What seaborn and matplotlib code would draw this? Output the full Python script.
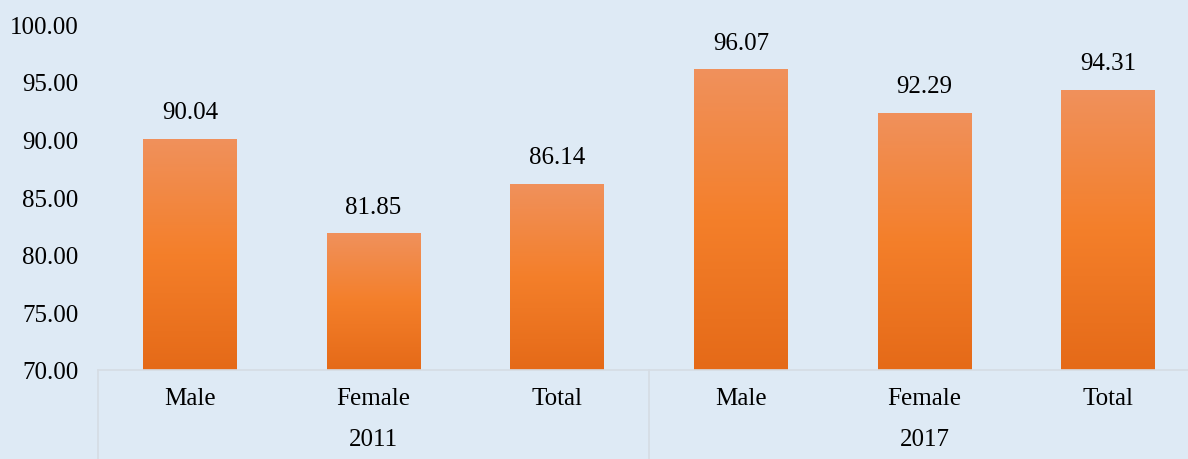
import numpy as np
import pandas as pd
import seaborn as sns
import matplotlib.pyplot as plt
from matplotlib.colors import LinearSegmentedColormap

years = ["2011", "2011", "2011", "2017", "2017", "2017"]
groups = ["Male", "Female", "Total", "Male", "Female", "Total"]
values = [90.04, 81.85, 86.14, 96.07, 92.29, 94.31]
yticks = [70, 75, 80, 85, 90, 95, 100]

df = pd.DataFrame({"year": years, "group": groups, "value": values})
df["slot"] = [f"{y}-{g}" for y, g in zip(years, groups)]

bg = "#DEEAF5"
line_col = "#D5DCE4"
plt.rcParams["font.family"] = ["Liberation Serif", "DejaVu Serif"]
fs = 18

fig = plt.figure(figsize=(11.88, 4.6), dpi=100, facecolor=bg)
ax = fig.add_axes([98 / 1188, 89 / 460, 1102 / 1188, 346 / 460])
ax.set_facecolor(bg)

sns.barplot(data=df, x="slot", y="value", color="#F47F2A", width=0.51, ax=ax)
ax.set_ylim(70, 100)
ax.set_xlim(-0.5, 5.5)

# vertical gradient per bar
cmap = LinearSegmentedColormap.from_list("og", ["#E56A18", "#F47F2A", "#F0915C"])
grad = np.linspace(0, 1, 256).reshape(-1, 1)
for p, v in zip(ax.patches, values):
    x0, w = p.get_x(), p.get_width()
    p.set_facecolor("none")
    p.set_edgecolor("none")
    im = ax.imshow(grad, cmap=cmap, origin="lower", aspect="auto",
                   extent=[x0, x0 + w, 70, v], zorder=2)
    im.set_clip_path(p)
    ax.text(x0 + w / 2, v + 1.35, f"{v:.2f}", ha="center", va="bottom", fontsize=fs)

ax.set_yticks(yticks)
ax.set_yticklabels([f"{t:.2f}" for t in yticks], fontsize=fs)
ax.tick_params(axis="y", length=0, pad=14)
ax.tick_params(axis="x", length=0)
ax.set_xticks([])
ax.set_xlabel("")
ax.set_ylabel("")
for s in ["top", "right", "left"]:
    ax.spines[s].set_visible(False)
ax.spines["bottom"].set_color(line_col)
ax.spines["bottom"].set_linewidth(1.2)

# category and group labels below axis
trans = ax.get_xaxis_transform()
for i, g in enumerate(groups):
    ax.text(i, -0.08, g, transform=trans, ha="center", va="center", fontsize=fs)
ax.text(1, -0.2, "2011", transform=trans, ha="center", va="center", fontsize=fs)
ax.text(4, -0.2, "2017", transform=trans, ha="center", va="center", fontsize=fs)
for xb in [-0.5, 2.5, 5.5]:
    ax.plot([xb, xb], [0, -0.27], transform=trans, color=line_col, lw=1.2, clip_on=False)

fig.savefig("out.png", dpi=100, facecolor=bg)
